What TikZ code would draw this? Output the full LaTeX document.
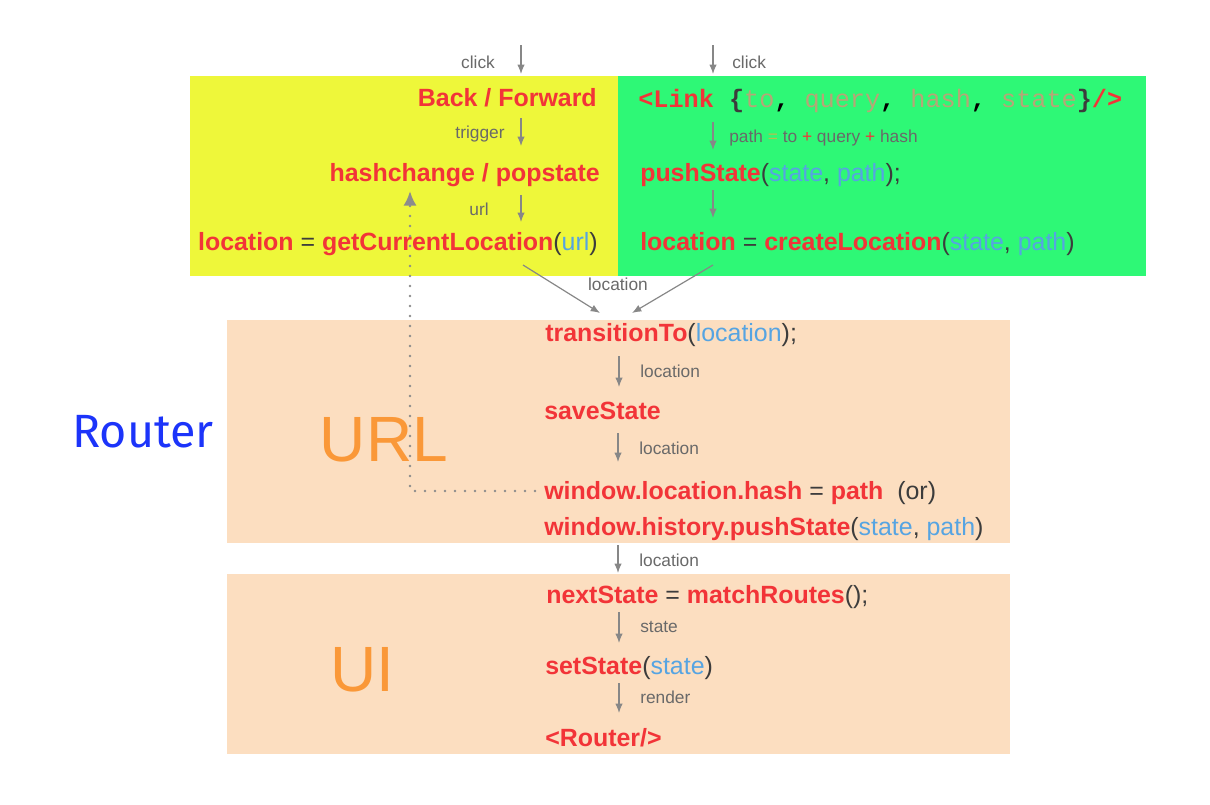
\documentclass[tikz,border=0pt]{standalone}
\usepackage{fontspec}
\setmainfont{Liberation Sans}
\setmonofont{Liberation Mono}
\newfontfamily\routerfont{Fira Sans}
\usepackage{tikz}
\usetikzlibrary{arrows.meta,calc,positioning}

\definecolor{boxyellow}{RGB}{238,247,58}
\definecolor{boxgreen}{RGB}{46,248,118}
\definecolor{boxpeach}{RGB}{252,222,192}
\definecolor{fnred}{RGB}{242,52,56}
\definecolor{prmblue}{RGB}{86,164,226}
\definecolor{linkarg}{RGB}{182,166,118}
\definecolor{lblgray}{RGB}{105,105,105}
\definecolor{arrgray}{RGB}{135,135,135}
\definecolor{dotgray}{RGB}{140,140,140}
\definecolor{layerorange}{RGB}{250,152,56}
\definecolor{routerblue}{RGB}{28,52,250}
\definecolor{punctgray}{RGB}{60,60,60}

\newcommand{\fname}[1]{{\bfseries\color{fnred}#1}}
\newcommand{\prm}[1]{{\color{prmblue}#1}}

\tikzset{
  code/.style={font=\fontsize{18.7}{22}\selectfont, text=punctgray, inner sep=0pt},
  lbl/.style={font=\fontsize{13}{15}\selectfont, text=lblgray, inner sep=0pt},
  layer/.style={font=\fontsize{48}{54}\selectfont, text=layerorange, inner sep=0pt},
  flow/.style={draw=arrgray, line width=0.9pt, -{Latex[length=7pt,width=5.5pt]}},
}

\begin{document}
\begin{tikzpicture}[x=0.75pt,y=-0.75pt]
  \useasboundingbox (0,0) rectangle (1210,804);

  %% backgrounds
  \fill[boxyellow] (190,76) rectangle (618,276);
  \fill[boxgreen] (618,76) rectangle (1146,276);
  \fill[boxpeach] (227,320) rectangle (1010,543);
  \fill[boxpeach] (227,574) rectangle (1010,754);

  \node[font=\routerfont\fontsize{35}{40}\selectfont, text=routerblue, anchor=base, inner sep=0pt]
    (router) at (143,447) {Router};
  \node[layer, anchor=base] (urllayer) at (384,461) {URL};
  \node[layer, anchor=base] (uilayer) at (362,691) {UI};

  %% browser side
  \node[code, anchor=base east] (backfwd) at (597,106) {\fname{Back / Forward}};
  \node[code, anchor=base east] (hashchg) at (600,181) {\fname{hashchange / popstate}};
  \node[code, anchor=base east] (getloc) at (598,250)
    {\fname{location} = \fname{getCurrentLocation}(\prm{url})};

  \node[code, anchor=base west, font=\ttfamily\fontsize{18.9}{22}\selectfont] (link) at (638,107)
    {\textbf{\color{fnred}<Link} \textbf{\{}{\color{linkarg}to\textbf{\color{black},}
     query\textbf{\color{black},} hash\textbf{\color{black},} state}\textbf{\}}\textbf{\color{fnred}/>}};
  \node[code, anchor=base west] (push) at (640,181) {\fname{pushState}(\prm{state}, \prm{path});};
  \node[code, anchor=base west] (createloc) at (640,250)
    {\fname{location} = \fname{createLocation}(\prm{state}, \prm{path})};

  %% router side
  \node[code, anchor=base west] (transition) at (545,341) {\fname{transitionTo}(\prm{location});};
  \node[code, anchor=base west] (save) at (544,419) {\fname{saveState}};
  \node[code, anchor=base west] (sethash) at (544,499) {\fname{window.location.hash} = \fname{path}\ \ (or)};
  \node[code, anchor=base west] (histpush) at (544,535)
    {\fname{window.history.pushState}(\prm{state}, \prm{path})};
  \node[code, anchor=base west] (match) at (546,603) {\fname{nextState} = \fname{matchRoutes}();};
  \node[code, anchor=base west] (setst) at (545,674) {\fname{setState}(\prm{state})};
  \node[code, anchor=base west] (routertag) at (545,746) {\fname{<Router/>}};

  %% edge labels
  \node[lbl, anchor=base] (click1) at (478,68) {click};
  \node[lbl, anchor=base west] (click2) at (732,68) {click};
  \node[lbl, anchor=base] (triglbl) at (480,138) {trigger};
  \node[lbl, anchor=base] (urllbl) at (479,215) {url};
  \node[lbl, anchor=base west] (pathlbl) at (729,142)
    {path {\color{boxyellow!60!lblgray}=} to {\color{fnred}+} query {\color{fnred}+} hash};
  \node[lbl, anchor=base] (loclbl0) at (618,290) {location};
  \node[lbl, anchor=base west] (loclbl1) at (640,377) {location};
  \node[lbl, anchor=base west] (loclbl2) at (639,454) {location};
  \node[lbl, anchor=base west] (loclbl3) at (639,566) {location};
  \node[lbl, anchor=base west] (statelbl) at (640,632) {state};
  \node[lbl, anchor=base west] (renderlbl) at (640,703) {render};

  %% arrow ends
  \coordinate (click1-a) at (521,45);   \coordinate (click1-b) at (521,74);
  \coordinate (click2-a) at (713,45);   \coordinate (click2-b) at (713,74);
  \coordinate (trig-a) at (521,118);    \coordinate (trig-b) at (521,146);
  \coordinate (url-a) at (521,195);     \coordinate (url-b) at (521,222);
  \coordinate (path-a) at (713,122);    \coordinate (path-b) at (713,150);
  \coordinate (push-a) at (713,190);    \coordinate (push-b) at (713,218);
  \coordinate (getloc-out) at (523,265);    \coordinate (trans-in-l) at (600,313);
  \coordinate (createloc-out) at (713,265); \coordinate (trans-in-r) at (632,313);
  \coordinate (loc1-a) at (619,356);    \coordinate (loc1-b) at (619,387);
  \coordinate (loc2-a) at (618,433);    \coordinate (loc2-b) at (618,462);
  \coordinate (loc3-a) at (618,545);    \coordinate (loc3-b) at (618,573);
  \coordinate (state-a) at (619,612);   \coordinate (state-b) at (619,643);
  \coordinate (render-a) at (619,683);  \coordinate (render-b) at (619,713);

  \draw[flow] (click1-a) -- (click1-b);
  \draw[flow] (click2-a) -- (click2-b);
  \draw[flow] (trig-a) -- (trig-b);
  \draw[flow] (url-a) -- (url-b);
  \draw[flow] (path-a) -- (path-b);
  \draw[flow] (push-a) -- (push-b);
  \draw[flow] (getloc-out) -- (trans-in-l);
  \draw[flow] (createloc-out) -- (trans-in-r);
  \draw[flow] (loc1-a) -- (loc1-b);
  \draw[flow] (loc2-a) -- (loc2-b);
  \draw[flow] (loc3-a) -- (loc3-b);
  \draw[flow] (state-a) -- (state-b);
  \draw[flow] (render-a) -- (render-b);

  %% the hash change fires the event again
  \coordinate (sethash-out) at (535,491);
  \coordinate (dotcorner) at (410,491);
  \coordinate (hashchg-in) at (410,191);
  \draw[dotgray, line width=2pt, line cap=round, dash pattern=on 0pt off 7.5pt,
        -{Latex[length=11pt,width=10pt]}]
    (sethash-out) -- (dotcorner) -- (hashchg-in);

\end{tikzpicture}
\end{document}
